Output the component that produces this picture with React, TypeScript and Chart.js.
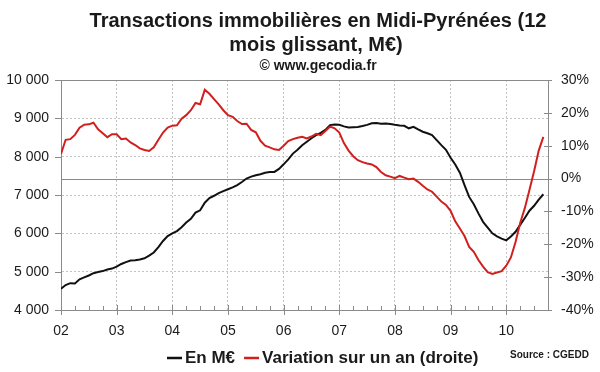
import React, { useEffect, useRef } from 'react';
import { Chart, registerables } from 'chart.js';

Chart.register(...registerables);

// ---- Data (monthly, Jan 2002 .. Sep 2010) ----
const YEAR_LABELS = ['02', '03', '04', '05', '06', '07', '08', '09', '10'];
const YEAR_TICKS = [0, 12, 24, 36, 48, 60, 72, 84, 96];
const X_MAX = 105;

// Transactions, M€ (left axis)
const VALUES_MEUR = [
  4554, 4650, 4700, 4690, 4800, 4850, 4900, 4960, 4990, 5015,
  5055, 5080, 5130, 5200, 5250, 5290, 5300, 5320, 5350, 5420,
  5500, 5640, 5800, 5930, 6000, 6060, 6160, 6280, 6380, 6540,
  6600, 6800, 6920, 6980, 7050, 7100, 7150, 7200, 7260, 7340,
  7430, 7480, 7516, 7540, 7580, 7600, 7603, 7680, 7800, 7930,
  8080, 8180, 8300, 8390, 8480, 8560, 8620, 8700, 8824, 8842,
  8830, 8790, 8763, 8770, 8775, 8800, 8830, 8870, 8880, 8860,
  8865, 8850, 8830, 8815, 8805, 8740, 8780, 8710, 8650, 8610,
  8562, 8430, 8300, 8180, 7970, 7796, 7580, 7260, 6950, 6760,
  6520, 6300, 6150, 6000, 5922, 5860, 5817, 5920, 6040, 6220,
  6400, 6590, 6720, 6880, 7020,
];

// Variation sur un an, % (right axis)
const VARIATION_PCT = [
  7.5, 11.8, 12.0, 13.3, 15.5, 16.4, 16.5, 17.0, 15.0, 13.8,
  12.6, 13.5, 13.5, 12.0, 12.2, 11.0, 10.2, 9.2, 8.7, 8.4,
  9.5, 11.8, 14.0, 15.5, 16.1, 16.2, 18.2, 19.3, 20.8, 23.0,
  22.6, 27.0, 25.8, 24.2, 22.6, 20.8, 19.3, 18.8, 17.5, 16.6,
  16.7, 14.8, 14.1, 11.5, 10.0, 9.5, 8.9, 8.7, 10.0, 11.4,
  12.0, 12.4, 12.7, 12.2, 12.8, 13.6, 13.2, 14.5, 15.8, 15.3,
  14.0, 10.8, 8.5, 6.8, 5.6, 5.0, 4.6, 4.3, 3.5, 2.0,
  1.0, 0.6, 0.1, 0.8, 0.3, -0.2, 0.0, -1.0, -2.2, -3.3,
  -4.0, -5.5, -7.0, -8.0, -9.8, -13.0, -15.2, -17.5, -20.8, -22.3,
  -24.8, -26.8, -28.5, -29.0, -28.6, -28.2, -26.5, -24.0, -19.3, -13.5,
  -9.0, -3.5, 2.2, 8.5, 12.7,
];

const TITLE_LINES = ['Transactions immobilières en Midi-Pyrénées (12', 'mois glissant, M€)'];
const SUBTITLE = '© www.gecodia.fr';
const LEGEND_LABELS = ['En M€', 'Variation sur un an (droite)'];
const SOURCE = 'Source : CGEDD';

const FONT = '"Liberation Sans", Arial, Helvetica, sans-serif';
const BLACK = '#111111';
const RED = '#d0201e';
const AXIS = '#8a8a8a';
const GRID = '#c4c4c4';
const TEXT = '#1a1a1a';

const fmtThousands = (v: number) => String(v).replace(/\B(?=(\d{3})+(?!\d))/g, ' ');

const decor = {
  id: 'decor',
  beforeDatasetsDraw(chart: any) {
    const { ctx, chartArea } = chart;
    const yR = chart.scales.y1;
    ctx.save();
    ctx.strokeStyle = AXIS;
    ctx.lineWidth = 1;
    // top frame line
    ctx.beginPath();
    ctx.moveTo(chartArea.left, Math.round(chartArea.top) + 0.5);
    ctx.lineTo(chartArea.right, Math.round(chartArea.top) + 0.5);
    ctx.stroke();
    // zero line on the right axis
    const y0 = Math.round(yR.getPixelForValue(0)) + 0.5;
    ctx.beginPath();
    ctx.moveTo(chartArea.left, y0);
    ctx.lineTo(chartArea.right, y0);
    ctx.stroke();
    ctx.restore();
  },
  afterDraw(chart: any) {
    const { ctx, chartArea } = chart;
    const x = chart.scales.x;
    const yL = chart.scales.y;
    const yR = chart.scales.y1;
    ctx.save();
    ctx.strokeStyle = AXIS;
    ctx.lineWidth = 1;
    // x tick marks (quarterly minor, yearly major)
    const b = Math.round(chartArea.bottom);
    for (let m = 0; m <= X_MAX; m += 3) {
      const px = Math.round(x.getPixelForValue(m)) + 0.5;
      ctx.beginPath();
      if (m % 12 === 0) {
        ctx.moveTo(px, b - 5);
        ctx.lineTo(px, b + 5);
      } else {
        ctx.moveTo(px, b - 4);
        ctx.lineTo(px, b);
      }
      ctx.stroke();
    }
    // left tick marks
    yL.ticks.forEach((t: any) => {
      const py = Math.round(yL.getPixelForValue(t.value)) + 0.5;
      ctx.beginPath();
      ctx.moveTo(chartArea.left - 6, py);
      ctx.lineTo(chartArea.left, py);
      ctx.stroke();
    });
    // right tick marks
    yR.ticks.forEach((t: any) => {
      const py = Math.round(yR.getPixelForValue(t.value)) + 0.5;
      ctx.beginPath();
      ctx.moveTo(chartArea.right - 4, py);
      ctx.lineTo(chartArea.right + 4, py);
      ctx.stroke();
    });

    // Title
    ctx.fillStyle = TEXT;
    ctx.textAlign = 'center';
    ctx.textBaseline = 'middle';
    ctx.font = `bold 20px ${FONT}`;
    ctx.fillText(TITLE_LINES[0], 318, 21);
    ctx.fillText(TITLE_LINES[1], 316, 45);
    ctx.font = `bold 14px ${FONT}`;
    ctx.fillText(SUBTITLE, 318, 66);

    // Legend
    ctx.font = `bold 17px ${FONT}`;
    ctx.textAlign = 'left';
    const ly = 358;
    let lx = 167;
    const seg = 15;
    const drawItem = (color: string, label: string) => {
      ctx.strokeStyle = color;
      ctx.lineWidth = 2.5;
      ctx.beginPath();
      ctx.moveTo(lx, ly);
      ctx.lineTo(lx + seg, ly);
      ctx.stroke();
      lx += seg + 3;
      ctx.fillStyle = TEXT;
      ctx.fillText(label, lx, ly);
      lx += ctx.measureText(label).width + 9;
    };
    drawItem(BLACK, LEGEND_LABELS[0]);
    drawItem(RED, LEGEND_LABELS[1]);

    // Source
    ctx.font = `bold 10px ${FONT}`;
    ctx.fillText(SOURCE, 510, 355);
    ctx.restore();
  },
};

export default function App() {
  const ref = useRef<HTMLCanvasElement | null>(null);
  useEffect(() => {
    document.body.style.margin = '0';
    const canvas = ref.current;
    if (!canvas) return;
    const tickFont = { family: FONT, size: 14 };
    const chart = new Chart(canvas, {
      type: 'line',
      data: {
        datasets: [
          {
            label: LEGEND_LABELS[1],
            data: VARIATION_PCT.map((v, i) => ({ x: i, y: v })),
            yAxisID: 'y1',
            borderColor: RED,
            borderWidth: 2,
            pointRadius: 0,
            tension: 0,
            order: 0,
          },
          {
            label: LEGEND_LABELS[0],
            data: VALUES_MEUR.map((v, i) => ({ x: i, y: v })),
            yAxisID: 'y',
            borderColor: BLACK,
            borderWidth: 2,
            pointRadius: 0,
            tension: 0,
            order: 1,
          },
        ],
      },
      options: {
        animation: false,
        responsive: false,
        devicePixelRatio: 1,
        layout: { padding: { top: 80, left: 0, right: 0, bottom: 0 } },
        plugins: {
          legend: { display: false },
          title: { display: false },
          tooltip: { enabled: false },
        },
        scales: {
          x: {
            type: 'linear',
            min: 0,
            max: X_MAX,
            afterBuildTicks: (s: any) => {
              s.ticks = YEAR_TICKS.map((v) => ({ value: v }));
            },
            afterFit: (s: any) => {
              s.height = 62;
            },
            grid: {
              color: (c: any) => (c.tick && c.tick.value === 0 ? 'rgba(0,0,0,0)' : GRID),
              lineWidth: 1,
              drawTicks: false,
            },
            border: { display: true, color: AXIS, width: 1, dash: [2, 2] },
            ticks: {
              padding: 13,
              autoSkip: false,
              maxRotation: 0,
              font: tickFont,
              color: TEXT,
              callback: (v: any) => {
                const i = YEAR_TICKS.indexOf(Number(v));
                return i >= 0 ? YEAR_LABELS[i] : '';
              },
            },
          },
          y: {
            position: 'left',
            min: 4000,
            max: 10000,
            afterFit: (s: any) => {
              s.width = 61;
            },
            grid: {
              color: (c: any) =>
                c.tick && (c.tick.value === 4000 || c.tick.value === 10000) ? 'rgba(0,0,0,0)' : GRID,
              lineWidth: 1,
              drawTicks: false,
            },
            border: { display: true, color: AXIS, width: 1, dash: [2, 2] },
            ticks: {
              stepSize: 1000,
              padding: 12,
              font: tickFont,
              color: TEXT,
              callback: (v: any) => fmtThousands(Number(v)),
            },
          },
          y1: {
            position: 'right',
            min: -40,
            max: 30,
            afterFit: (s: any) => {
              s.width = 52;
            },
            grid: { display: false, drawTicks: false },
            border: { display: true, color: AXIS, width: 1 },
            ticks: {
              stepSize: 10,
              padding: 13,
              font: tickFont,
              color: TEXT,
              callback: (v: any) => `${v}%`,
            },
          },
        },
      },
      plugins: [decor],
    } as any);
    return () => chart.destroy();
  }, []);

  return (
    <div style={{ width: 600, height: 372, background: '#fff' }}>
      <canvas ref={ref} width={600} height={372} style={{ display: 'block', width: 600, height: 372 }} />
    </div>
  );
}
